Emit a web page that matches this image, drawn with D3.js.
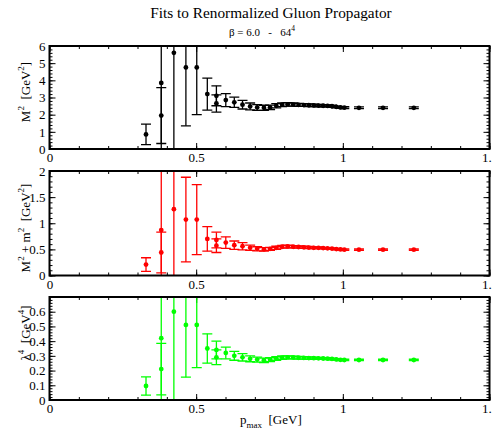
<!DOCTYPE html>
<html><head><meta charset="utf-8">
<script src="https://cdn.jsdelivr.net/npm/d3@7"></script>
<style>body{margin:0;background:#fff}svg{display:block}svg text{font-family:'Liberation Serif','Times New Roman',Times,serif !important;white-space:pre}</style>
</head><body><div id="chart"></div>
<script>
const pmax = [0.329,0.381,0.381,0.424,0.465,0.502,0.538,0.569,0.569,0.601,0.630,0.658,0.684,0.708,0.731,0.752,0.773,0.793,0.812,0.831,0.849,0.867,0.884,0.901,0.917,0.933,0.948,0.963,0.978,0.992,1.005,1.055,1.137,1.242];
const m2 =    [0.85,1.95,3.85,5.6,4.75,4.75,3.2,3.1,2.65,2.85,2.72,2.58,2.48,2.42,2.40,2.43,2.52,2.58,2.60,2.59,2.57,2.56,2.55,2.54,2.53,2.52,2.51,2.49,2.45,2.42,2.41,2.40,2.40,2.40];
const m2Err = [0.6,1.63,9,9,3.4,2.75,0.93,0.58,0.5,0.38,0.3,0.25,0.2,0.17,0.15,0.13,0.12,0.11,0.1,0.09,0.09,0.08,0.08,0.07,0.07,0.06,0.06,0.06,0.05,0.05,0.05,0.05,0.05,0.05];
const mm2 =    [0.21,0.44,0.87,1.27,1.07,1.07,0.70,0.68,0.57,0.63,0.58,0.56,0.53,0.51,0.50,0.51,0.53,0.55,0.555,0.55,0.545,0.54,0.535,0.53,0.53,0.525,0.52,0.515,0.505,0.50,0.495,0.495,0.495,0.495];
const mm2Err = [0.13,0.39,5,5,0.81,0.67,0.235,0.15,0.13,0.11,0.08,0.07,0.05,0.04,0.035,0.03,0.03,0.025,0.025,0.02,0.02,0.02,0.02,0.015,0.015,0.015,0.015,0.015,0.012,0.012,0.012,0.012,0.012,0.012];
const lam4 =    [0.095,0.21,0.42,0.60,0.51,0.51,0.35,0.34,0.29,0.32,0.30,0.29,0.28,0.275,0.27,0.274,0.282,0.288,0.29,0.289,0.287,0.286,0.285,0.284,0.283,0.282,0.281,0.279,0.276,0.273,0.272,0.272,0.272,0.272];
const lam4Err = [0.062,0.175,1,1,0.355,0.29,0.1,0.06,0.05,0.04,0.03,0.025,0.02,0.017,0.015,0.013,0.012,0.011,0.01,0.009,0.009,0.008,0.008,0.007,0.007,0.006,0.006,0.006,0.005,0.005,0.005,0.005,0.005,0.005];
const xTicks = [0,0.5,1,1.5];
const xTickLabels = ["0","0.5","1","1.5"];

const W = 492, H = 435;
const L = 49.5, R = 489.5;
const FONT = "'Liberation Serif','Times New Roman',Times,serif";
const panels = [
  {vals:m2, errs:m2Err, color:"#000000", domain:[0,6], major:d3.range(0,6.01,1), minor:d3.range(0,6.01,0.2), fmt:d=>d3.format("d")(d), top:46, bottom:149, labelY:92, label:[["M",""],["2","sup"],["  [GeV",""],["2","sup"],["]",""]]},
  {vals:mm2, errs:mm2Err, color:"#ff0000", domain:[0,2], major:d3.range(0,2.01,0.5), minor:d3.range(0,2.01,0.1), fmt:d=>(d===0?"0":d3.format("~g")(d)), top:171, bottom:275.5, labelY:228, label:[["M",""],["2","sup"],[" + m",""],["2","sup"],["  [GeV",""],["2","sup"],["]",""]]},
  {vals:lam4, errs:lam4Err, color:"#00ff00", domain:[0,0.7], major:d3.range(0,0.61,0.1), minor:d3.range(0,0.701,0.02), fmt:d=>(Math.abs(d)<1e-9?"0":d3.format(".1f")(d)), top:297, bottom:400, labelY:333, label:[["λ",""],["4","sup"],["  [GeV",""],["4","sup"],["]",""]]}
];

const svg = d3.select("#chart").append("svg").attr("width",W).attr("height",H);
const x = d3.scaleLinear().domain([0,1.5]).range([L,R]);

svg.append("text").attr("x",271).attr("y",18).attr("text-anchor","middle").attr("font-size",15.3).attr("font-family",FONT).text("Fits to Renormalized Gluon Propagator");
const sub = svg.append("text").attr("x",262).attr("y",36).attr("text-anchor","middle").attr("font-size",11).attr("font-family",FONT).attr("xml:space","preserve");
sub.append("tspan").text("β = 6.0   -   64");
sub.append("tspan").attr("dy",-5).attr("font-size",7.5).text("4");

panels.forEach((p,i)=>{
  const y = d3.scaleLinear().domain(p.domain).range([p.bottom,p.top]);
  const g = svg.append("g");
  const cid = "clip"+i;
  svg.append("clipPath").attr("id",cid).append("rect").attr("x",L).attr("y",p.top).attr("width",R-L).attr("height",p.bottom-p.top);
  g.append("g").attr("transform",`translate(0,${p.bottom})`).call(d3.axisBottom(x).tickValues(xTicks).tickSize(-6).tickPadding(4).tickFormat((d,k)=>xTickLabels[k]));
  g.append("g").attr("transform",`translate(0,${p.bottom})`).call(d3.axisBottom(x).tickValues(d3.range(0,1.501,0.1)).tickSize(-3).tickFormat(""));
  g.append("g").attr("transform",`translate(0,${p.top})`).call(d3.axisTop(x).tickValues(xTicks).tickSize(-6).tickFormat(""));
  g.append("g").attr("transform",`translate(0,${p.top})`).call(d3.axisTop(x).tickValues(d3.range(0,1.501,0.1)).tickSize(-3).tickFormat(""));
  g.append("g").attr("transform",`translate(${L},0)`).call(d3.axisLeft(y).tickValues(p.major).tickSize(-6).tickPadding(4).tickFormat(p.fmt));
  g.append("g").attr("transform",`translate(${L},0)`).call(d3.axisLeft(y).tickValues(p.minor).tickSize(-3).tickFormat(""));
  g.append("g").attr("transform",`translate(${R},0)`).call(d3.axisRight(y).tickValues(p.major).tickSize(-6).tickFormat(""));
  g.append("g").attr("transform",`translate(${R},0)`).call(d3.axisRight(y).tickValues(p.minor).tickSize(-3).tickFormat(""));
  g.selectAll("g").attr("font-family",FONT);
  g.selectAll(".domain").remove();
  g.selectAll(".tick line").attr("stroke","#000").attr("stroke-width",1);
  g.selectAll(".tick text").attr("font-family",FONT).attr("font-size",13).attr("fill","#000");
  const d = g.append("g").attr("clip-path",`url(#${cid})`);
  pmax.forEach((px,k)=>{
    const cx = x(px), v = p.vals[k], e = p.errs[k];
    d.append("line").attr("x1",cx).attr("x2",cx).attr("y1",y(v-e)).attr("y2",y(v+e)).attr("stroke",p.color).attr("stroke-width",1.3);
    [v-e,v+e].forEach(c=>{
      d.append("line").attr("x1",cx-5).attr("x2",cx+5).attr("y1",y(c)).attr("y2",y(c)).attr("stroke",p.color).attr("stroke-width",1.3);
    });
    d.append("circle").attr("cx",cx).attr("cy",y(v)).attr("r",2.4).attr("fill",p.color);
  });
  g.append("rect").attr("x",L).attr("y",p.top).attr("width",R-L).attr("height",p.bottom-p.top).attr("fill","none").attr("stroke","#000").attr("stroke-width",2);
  const t = svg.append("text").attr("transform",`translate(30,${p.labelY}) rotate(-90)`).attr("text-anchor","middle").attr("font-size",13).attr("font-family",FONT).attr("xml:space","preserve");
  let prevSup = false;
  p.label.forEach(([s,kind])=>{
    const ts = t.append("tspan").text(s);
    if(kind==="sup"){ ts.attr("dy",-6).attr("font-size",9); prevSup=true; }
    else if(prevSup){ ts.attr("dy",6); prevSup=false; }
  });
});

const xl = svg.append("text").attr("x",240).attr("y",424).attr("font-size",13).attr("font-family",FONT).attr("xml:space","preserve");
xl.append("tspan").text("p");
xl.append("tspan").attr("dy",4).attr("font-size",9).text("max");
xl.append("tspan").attr("dy",-4).text("  [GeV]");
</script></body></html>
